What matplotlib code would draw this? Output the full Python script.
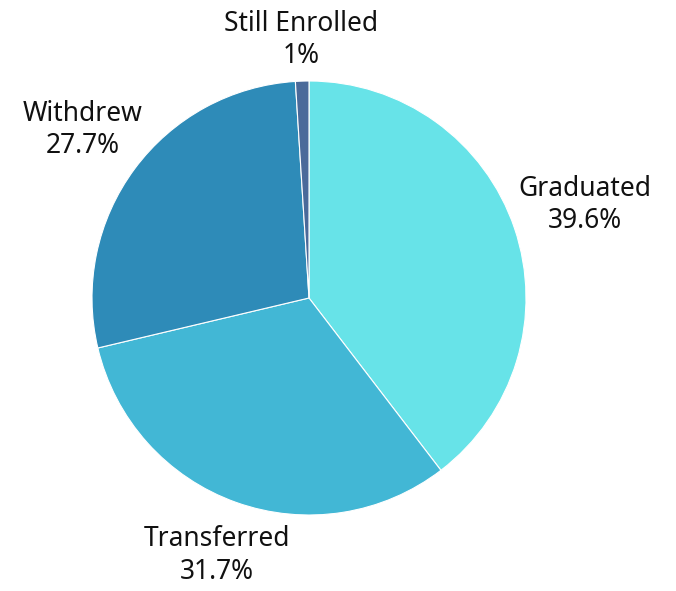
import matplotlib
matplotlib.use("Agg")
import matplotlib.pyplot as plt
import numpy as np

categories = ["Graduated", "Transferred", "Withdrew", "Still Enrolled"]
values = [39.6, 31.7, 27.7, 1.0]
pct_labels = ["39.6%", "31.7%", "27.7%", "1%"]
colors = ["#67E3E8", "#42B7D5", "#2E8BB8", "#4A6A9A"]
label_dist = [1.34, 1.26, 1.30, 1.19]

plt.rcParams['font.family'] = ['Noto Sans', 'DejaVu Sans']

W, H = 676, 591
fig = plt.figure(figsize=(W / 100, H / 100), dpi=100)
cx, cy, r = 309, 293, 217
L = 1.5
size = 2 * L * r
ax = fig.add_axes([(cx - size / 2) / W, (cy - size / 2) / H, size / W, size / H])

wedges, _ = ax.pie(values, colors=colors, startangle=90, counterclock=False,
                   radius=1.0, wedgeprops=dict(edgecolor='white', linewidth=0.8))
ax.set_xlim(-L, L)
ax.set_ylim(-L, L)
ax.set_aspect('auto')
ax.axis('off')
for w, cat, pct, d in zip(wedges, categories, pct_labels, label_dist):
    ang = np.deg2rad((w.theta1 + w.theta2) / 2)
    ax.text(d * np.cos(ang), d * np.sin(ang), f"{cat}\n{pct}", ha='center', va='center',
            fontsize=19, color='#111111', linespacing=1.2)

fig.savefig("out.png", dpi=100)
